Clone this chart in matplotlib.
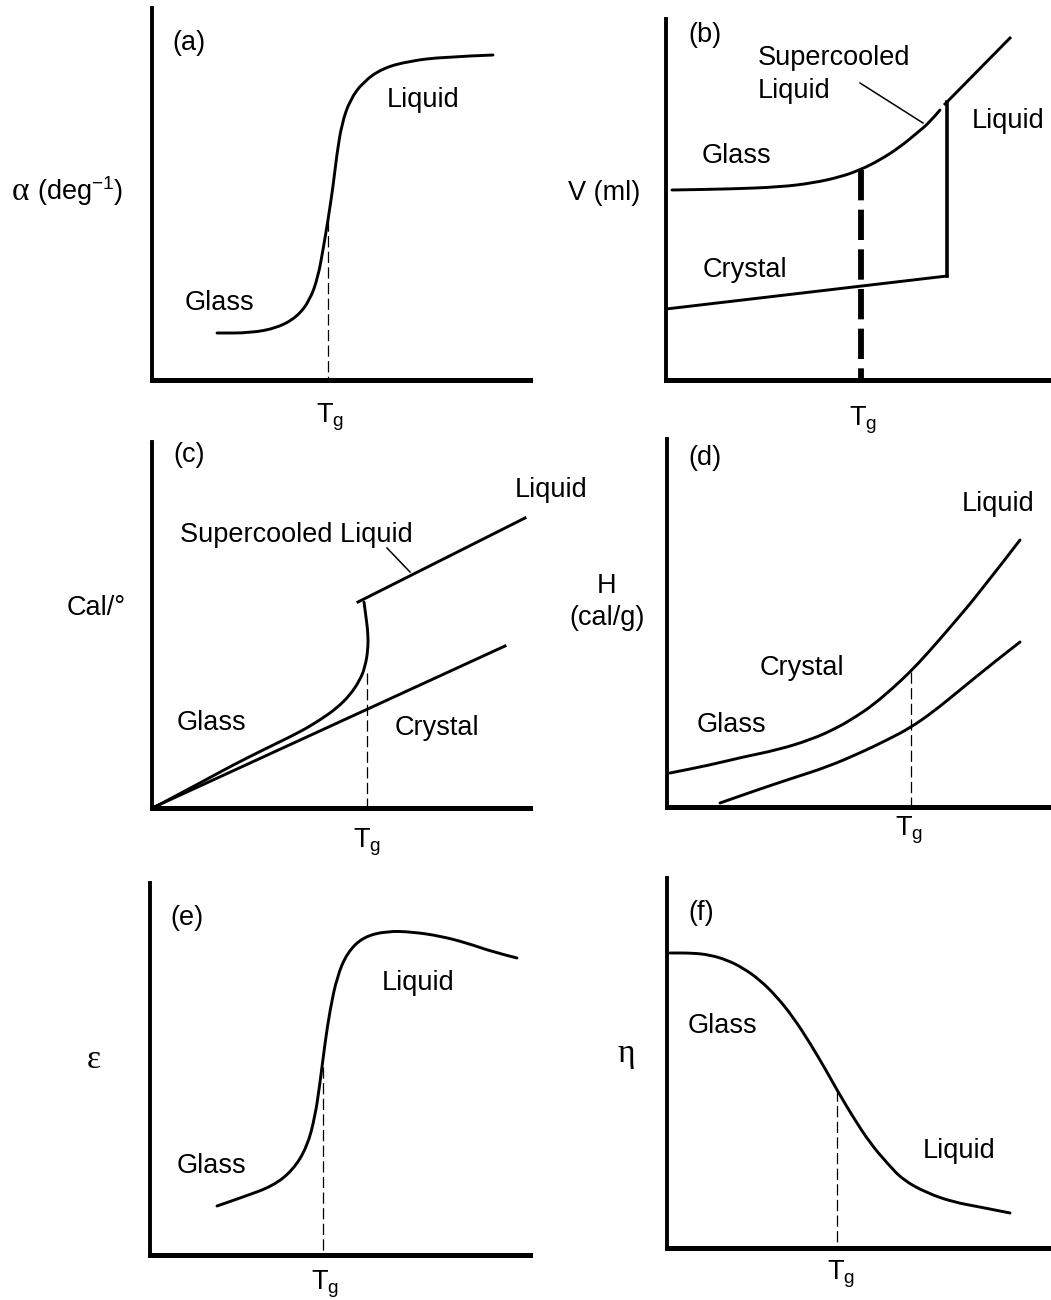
import matplotlib
matplotlib.use("Agg")
import matplotlib.pyplot as plt
from matplotlib.path import Path
from matplotlib.patches import PathPatch

plt.rcParams['font.family'] = ['Liberation Sans', 'DejaVu Sans']
plt.rcParams['mathtext.fontset'] = 'custom'
plt.rcParams['mathtext.rm'] = 'Liberation Sans'
plt.rcParams['mathtext.it'] = 'Liberation Sans:italic'
plt.rcParams['mathtext.default'] = 'regular'

# ---------------- data (arbitrary units: temperature, property) ----------------
# (a) thermal expansion coefficient
a_T = [65, 98, 125, 145, 158, 166, 171, 176, 181, 185, 190, 198, 211, 231, 258, 291, 341]
a_alpha = [47, 47, 52, 63, 80, 103, 130, 160, 193, 227, 257, 280, 298, 312, 319, 323, 325]
a_Tg = 176
a_Tg_y = 160

# (b) volume
b_glass_T = [6, 64, 114, 147, 174, 194, 214, 234, 251, 264, 274]
b_glass_V = [190, 191, 193, 197, 203, 210, 220, 233, 247, 258, 270]
b_liquid_T = [279, 344]
b_liquid_V = [276, 342]
b_melt_T = [281, 281]
b_melt_V = [104, 278]
b_crystal_T = [0, 281]
b_crystal_V = [71, 104]
b_leader_T = [194, 257]
b_leader_V = [297, 257]
b_Tg = 195
b_Tg_y = 210

# (c) heat capacity
c_crystal_T = [0, 353]
c_crystal_C = [0, 162]
c_glass_T = [1, 48, 81, 115, 148, 168, 185, 198, 208, 213, 216, 216, 214, 212]
c_glass_C = [0, 25, 43, 60, 76, 88, 100, 113, 128, 141, 158, 175, 191, 206]
c_liquid_T = [206, 373]
c_liquid_C = [206, 290]
c_leader_T = [235, 258]
c_leader_C = [260, 236]
c_Tg = 215
c_Tg_y = 135

# (d) enthalpy
d_upper_T = [3, 43, 76, 110, 143, 170, 190, 206, 226, 243, 260, 286, 313, 353]
d_upper_H = [34, 42, 50, 57, 67, 79, 91, 102, 119, 135, 153, 183, 215, 267]
d_lower_T = [53, 93, 126, 160, 193, 220, 243, 266, 293, 326, 353]
d_lower_H = [4, 18, 29, 40, 54, 67, 79, 95, 117, 144, 165]
d_Tg = 244
d_Tg_y = 135

# (e) dielectric constant
e_T = [67, 93, 123, 143, 157, 165, 170, 175, 180, 187, 197, 213, 237, 263, 290, 317, 343, 367]
e_eps = [49, 58, 69, 85, 108, 138, 172, 212, 245, 278, 302, 318, 324, 323, 319, 312, 303, 297]
e_Tg = 173
e_Tg_y = 188

# (f) viscosity
f_T = [3, 26, 43, 60, 76, 93, 110, 126, 143, 160, 170, 186, 203, 220, 236, 260, 286, 313, 343]
f_eta = [295, 295, 293, 288, 280, 268, 251, 231, 205, 176, 158, 131, 105, 85, 68, 55, 46, 41, 35]
f_Tg = 170
f_Tg_y = 158

# ---------------- figure ----------------
W, H = 1051, 1300
fig = plt.figure(figsize=(W / 100, H / 100), dpi=100)
FS = 19.5
LW = 2.1
THIN = dict(color='black', lw=0.9, dashes=(9, 3.5))


def add_panel(left, top, right, bottom):
    ax = fig.add_axes([left / W, 1 - bottom / H, (right - left) / W, (bottom - top) / H])
    ax.set_xlim(0, right - left)
    ax.set_ylim(0, bottom - top)
    for s in ('top', 'right'):
        ax.spines[s].set_visible(False)
    ax.spines['left'].set_linewidth(2.8)
    ax.spines['bottom'].set_linewidth(3.6)
    ax.set_xticks([])
    ax.set_yticks([])
    ax.patch.set_alpha(0)
    return ax


def smooth_curve(ax, xs, ys, lw=LW):
    """Draw a smooth curve guided by the read points (quadratic Bezier path)."""
    pts = list(zip(xs, ys))
    verts = [pts[0]]
    codes = [Path.MOVETO]
    if len(pts) > 2:
        mid = ((pts[0][0] + pts[1][0]) / 2, (pts[0][1] + pts[1][1]) / 2)
        verts.append(mid)
        codes.append(Path.LINETO)
        for i in range(1, len(pts) - 1):
            nxt = ((pts[i][0] + pts[i + 1][0]) / 2, (pts[i][1] + pts[i + 1][1]) / 2)
            if i == len(pts) - 2:
                nxt = pts[i + 1]
            verts += [pts[i], nxt]
            codes += [Path.CURVE3, Path.CURVE3]
    else:
        verts.append(pts[-1])
        codes.append(Path.LINETO)
    ax.add_patch(PathPatch(Path(verts, codes), fill=False, edgecolor='black',
                           lw=lw, capstyle='round', joinstyle='round'))


def ftext(x, y, s, **kw):
    kw.setdefault('fontsize', FS)
    fig.text(x / W, 1 - y / H, s, **kw)


def tg_label(ax, x, below):
    ax.text(x, -below, r'$\mathrm{T_g}$', ha='center', va='baseline',
            fontsize=FS, clip_on=False)


SERIF = ['Liberation Serif', 'DejaVu Serif']

# (a)
ax = add_panel(152, 8, 530, 380)
smooth_curve(ax, a_T, a_alpha)
ax.plot([a_Tg, a_Tg], [a_Tg_y, 0], **THIN)
ax.text(20, 330, '(a)', fontsize=FS)
ax.text(235, 273, 'Liquid', fontsize=FS)
ax.text(33, 70, 'Glass', fontsize=FS)
tg_label(ax, a_Tg + 2, 42)
ftext(12, 200, 'α', family=SERIF, fontsize=24)
ftext(37, 200, r'(deg$^{\mathrm{-1}}$)')

# (b)
ax = add_panel(666, 19, 1051, 380)
smooth_curve(ax, b_glass_T, b_glass_V)
ax.plot(b_liquid_T, b_liquid_V, color='black', lw=LW)
ax.plot(b_melt_T, b_melt_V, color='black', lw=2.6)
ax.plot(b_crystal_T, b_crystal_V, color='black', lw=LW)
ax.plot(b_leader_T, b_leader_V, color='black', lw=1.1)
ax.plot([b_Tg, b_Tg], [b_Tg_y, 0], color='black', lw=4.2, dashes=(5.2, 1.6))
ax.text(22, 338, '(b)', fontsize=FS)
ax.text(92, 315, 'Supercooled', fontsize=FS)
ax.text(92, 282, 'Liquid', fontsize=FS)
ax.text(36, 217, 'Glass', fontsize=FS)
ax.text(37, 103, 'Crystal', fontsize=FS)
ax.text(306, 252, 'Liquid', fontsize=FS)
tg_label(ax, b_Tg + 2, 45)
ftext(568, 200, 'V (ml)')

# (c)
ax = add_panel(152, 442, 530, 808)
ax.plot(c_crystal_T, c_crystal_C, color='black', lw=LW)
smooth_curve(ax, c_glass_T, c_glass_C)
ax.plot(c_liquid_T, c_liquid_C, color='black', lw=LW)
ax.plot(c_leader_T, c_leader_C, color='black', lw=1.1)
ax.plot([c_Tg, c_Tg], [c_Tg_y, 0], **THIN)
ax.text(21, 346, '(c)', fontsize=FS)
ax.text(28, 266, 'Supercooled Liquid', fontsize=FS)
ax.text(363, 311, 'Liquid', fontsize=FS, clip_on=False)
ax.text(25, 78, 'Glass', fontsize=FS)
ax.text(243, 73, 'Crystal', fontsize=FS)
tg_label(ax, c_Tg, 40)
ftext(67, 615, 'Cal/°')

# (d)
ax = add_panel(667, 439, 1051, 807)
smooth_curve(ax, d_upper_T, d_upper_H)
smooth_curve(ax, d_lower_T, d_lower_H)
ax.plot([d_Tg, d_Tg], [d_Tg_y, 0], **THIN)
ax.text(21, 342, '(d)', fontsize=FS)
ax.text(295, 296, 'Liquid', fontsize=FS)
ax.text(93, 132, 'Crystal', fontsize=FS)
ax.text(30, 75, 'Glass', fontsize=FS)
tg_label(ax, d_Tg - 2, 28)
ftext(607, 593, 'H', ha='center')
ftext(607, 625, '(cal/g)', ha='center')

# (e)
ax = add_panel(150, 883, 530, 1255)
smooth_curve(ax, e_T, e_eps)
ax.plot([e_Tg, e_Tg], [e_Tg_y, 0], **THIN)
ax.text(20, 330, '(e)', fontsize=FS)
ax.text(232, 265, 'Liquid', fontsize=FS)
ax.text(27, 82, 'Glass', fontsize=FS)
tg_label(ax, e_Tg + 2, 35)
ftext(94, 1060, 'ε', ha='center', va='center', family=SERIF, fontsize=24)

# (f)
ax = add_panel(667, 878, 1051, 1248)
smooth_curve(ax, f_T, f_eta)
ax.plot([f_Tg, f_Tg], [f_Tg_y, 0], **THIN)
ax.text(21, 328, '(f)', fontsize=FS)
ax.text(21, 215, 'Glass', fontsize=FS)
ax.text(256, 90, 'Liquid', fontsize=FS)
tg_label(ax, f_Tg + 4, 32)
ftext(626, 1054, 'η', ha='center', va='center', family=SERIF, fontsize=24)

fig.savefig('out.png', dpi=100)
